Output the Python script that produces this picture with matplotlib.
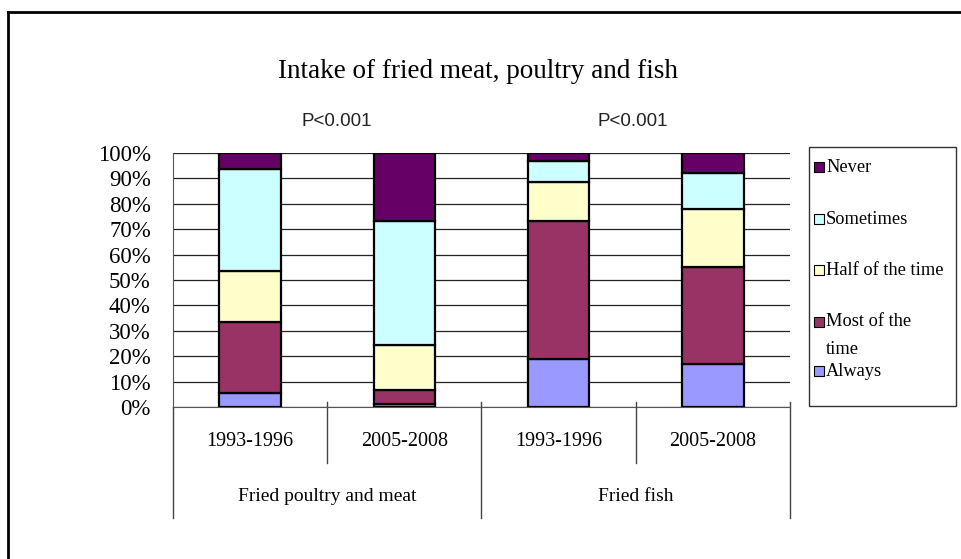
import matplotlib

matplotlib.use("Agg")
import matplotlib.pyplot as plt
import numpy as np
from matplotlib.lines import Line2D
from matplotlib.patches import Rectangle

# values (percent of each bar)
years = ["1993-1996", "2005-2008", "1993-1996", "2005-2008"]
groups = ["Fried poultry and meat", "Fried fish"]
p_labels = ["P<0.001", "P<0.001"]

always = [5.5, 1.0, 19.0, 17.0]
most = [28.0, 5.7, 54.2, 38.3]
half = [20.0, 17.7, 15.3, 22.8]
sometimes = [40.3, 48.7, 8.5, 14.2]
never = [6.2, 26.9, 3.0, 7.7]

series = [
    ("Always", always, "#9999FF"),
    ("Most of the\ntime", most, "#993366"),
    ("Half of the time", half, "#FFFFCC"),
    ("Sometimes", sometimes, "#CCFFFF"),
    ("Never", never, "#660066"),
]

SERIF = "Liberation Serif"
SANS = "Liberation Sans"

fig = plt.figure(figsize=(9.62, 5.59), dpi=100)
ax = fig.add_axes([173 / 962, 1 - 407 / 559, 617 / 962, 254 / 559])

x = np.arange(len(years))
bottom = np.zeros(len(years))
for name, vals, col in series:
    ax.bar(x, vals, width=0.4, bottom=bottom, color=col,
           edgecolor="black", linewidth=1.6, zorder=3)
    bottom += np.array(vals)

ax.set_xlim(-0.5, len(years) - 0.5)
ax.set_ylim(0, 100)
ax.set_yticks(np.arange(0, 101, 10))
ax.set_yticklabels([f"{v}%" for v in range(0, 101, 10)], fontfamily=SERIF, fontsize=16.5)
ax.tick_params(axis="y", length=0, pad=16)
ax.set_xticks([])
ax.yaxis.grid(True, color="#222222", lw=0.9, zorder=0)
for s in ("top", "right"):
    ax.spines[s].set_visible(False)
ax.spines["left"].set_color("#555555")
ax.spines["bottom"].set_color("#555555")

# two-level category axis
tr = ax.get_xaxis_transform()
for i, lab in enumerate(years):
    ax.text(i, -0.134, lab, transform=tr, ha="center", va="center",
            fontfamily=SERIF, fontsize=14.5)
for g, lab in enumerate(groups):
    ax.text(2 * g + 0.5, -0.354, lab, transform=tr, ha="center", va="center",
            fontfamily=SERIF, fontsize=14)
for b in (0.5, 2.5):
    ax.add_line(Line2D([b, b], [0.021, -0.22], transform=tr, color="#444444",
                       lw=1.0, clip_on=False))
for b in (1.5, 3.5):
    ax.add_line(Line2D([b, b], [0.021, -0.437], transform=tr, color="#444444",
                       lw=1.0, clip_on=False))
ax.add_line(Line2D([-0.5, -0.5], [0, -0.437], transform=tr, color="#444444",
                   lw=1.0, clip_on=False))

fig.text(478 / 962, 1 - 72 / 559, "Intake of fried meat, poultry and fish",
         ha="center", va="center", fontfamily=SERIF, fontsize=19.5)
for px, lab in zip((337, 633), p_labels):
    fig.text(px / 962, 1 - 122 / 559, lab, ha="center", va="center",
             fontfamily=SANS, fontsize=13.5, color="#222222")

# legend box drawn by hand to follow the wrapped entry
fig.patches.append(Rectangle((809 / 962, 1 - 406 / 559), 147 / 962, 259 / 559,
                             transform=fig.transFigure, fill=False,
                             edgecolor="#333333", lw=1.0))
leg_y = [167, 219, 270, 322, 371]
for (name, _, col), py in zip(series[::-1], leg_y):
    fig.patches.append(Rectangle((814 / 962, 1 - (py + 5) / 559), 10 / 962, 10 / 559,
                                 transform=fig.transFigure, facecolor=col,
                                 edgecolor="black", lw=0.8))
    lines = name.split("\n")
    for k, line in enumerate(lines):
        fig.text(826 / 962, 1 - (py + 27 * k) / 559, line, ha="left", va="center",
                 fontfamily=SERIF, fontsize=13.2)

# frame edges visible in the reference (top and left only)
fig.add_artist(Line2D([8 / 962, 1], [1 - 12 / 559, 1 - 12 / 559],
                      transform=fig.transFigure, color="black", lw=2))
fig.add_artist(Line2D([8 / 962, 8 / 962], [0, 1 - 12 / 559],
                      transform=fig.transFigure, color="black", lw=2))

fig.savefig("out.png", dpi=100)
